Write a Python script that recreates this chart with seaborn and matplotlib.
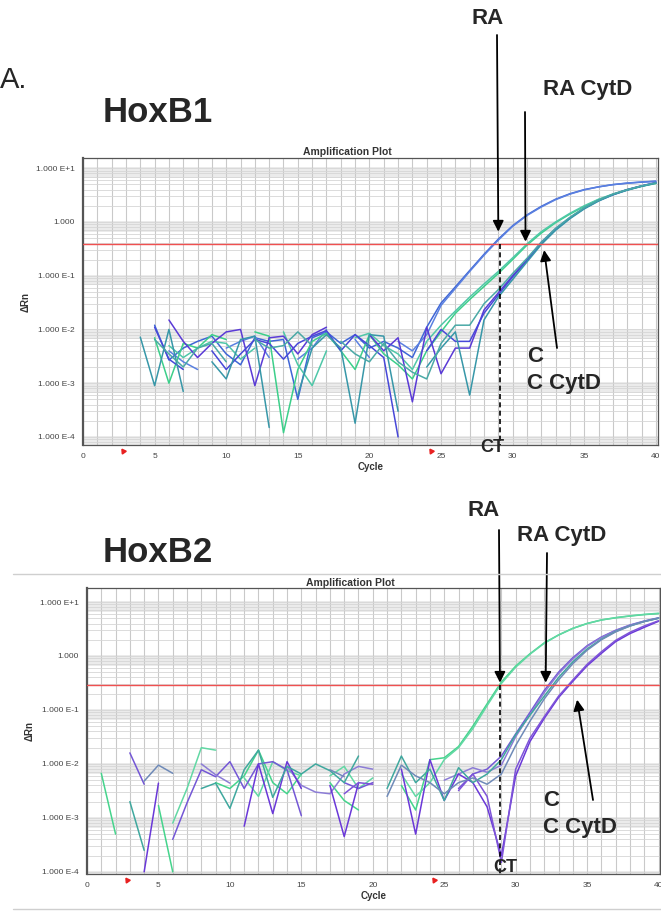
import numpy as np
import pandas as pd
import seaborn as sns
import matplotlib.pyplot as plt
from matplotlib.ticker import FixedLocator, MultipleLocator, LogLocator, NullFormatter
from matplotlib.lines import Line2D

nan = np.nan

# HoxB1 amplification curves, delta Rn per cycle (cycles 4-40, nan = not drawn)
hoxb1_cycles = np.arange(4, 41)
hoxb1_ra_1 = [nan, 0.012, 0.0027, 0.0045, 0.006, 0.0075, 0.0035, 0.0022, 0.007, 0.006, 0.0065, 0.0005,
              0.007, 0.009, 0.0055, 0.008, 0.0045, 0.006, 0.0045, 0.003, 0.011, 0.031, 0.062, 0.125,
              0.25, 0.48, 0.85, 1.35, 1.95, 2.65, 3.35, 4.0, 4.5, 4.95, 5.25, 5.5, 5.7]
hoxb1_ra_2 = [nan, nan, 0.004, 0.0025, 0.0018, nan, 0.0045, 0.006, 0.0075, 0.003, nan, 0.0028,
              0.0045, 0.01, nan, 0.0065, 0.003, nan, 0.006, 0.004, 0.008, 0.028, 0.058, 0.12,
              0.24, 0.46, 0.83, 1.32, 1.9, 2.6, 3.3, 3.95, 4.5, 4.95, 5.3, 5.55, 5.75]
hoxb1_racytd_1 = [nan, 0.007, 0.001, 0.0055, 0.0045, 0.008, 0.0065, nan, 0.009, 0.0075, 0.00012, 0.0018,
                  0.006, 0.0085, 0.004, 0.0018, 0.008, 0.0035, 0.0022, 0.0012, 0.004, 0.009, 0.02, 0.036,
                  0.063, 0.11, 0.2, 0.37, 0.62, 0.97, 1.4, 1.95, 2.6, 3.25, 3.95, 4.6, 5.2]
hoxb1_racytd_2 = [nan, nan, 0.005, 0.003, 0.0045, 0.006, 0.0055, 0.0028, 0.0045, nan, 0.009, 0.0022,
                  0.0009, 0.004, nan, 0.007, 0.0085, 0.005, 0.0035, 0.0018, 0.006, 0.012, 0.022, 0.04,
                  0.07, 0.12, 0.215, 0.39, 0.66, 1.0, 1.45, 2.0, 2.65, 3.3, 4.0, 4.65, 5.25]
hoxb1_c_1 = [nan, nan, 0.015, 0.006, 0.003, 0.0055, 0.009, 0.01, 0.0009, 0.007, 0.0075, 0.0035,
             0.008, 0.011, nan, nan, 0.008, 0.004, 0.007, 0.00045, 0.011, 0.0015, 0.0045, 0.0045,
             0.023, 0.048, 0.1, 0.2, 0.42, 0.75, 1.2, 1.8, 2.5, 3.25, 4.0, 4.7, 5.4]
hoxb1_c_2 = [nan, 0.011, 0.0028, 0.0018, nan, 0.004, 0.0018, 0.0035, 0.0065, 0.0055, 0.0028, 0.0055,
             0.0075, 0.0095, 0.004, 0.008, 0.005, 0.003, 0.0001, nan, 0.004, 0.01, 0.006, 0.006,
             0.02, 0.044, 0.095, 0.19, 0.4, 0.72, 1.18, 1.8, 2.5, 3.2, 3.95, 4.65, 5.35]
hoxb1_ccytd_1 = [0.0072, 0.0009, 0.01, 0.0007, nan, 0.0025, 0.0012, 0.0065, 0.0075, 0.00015, nan, 0.0006,
                 0.0045, 0.008, 0.0045, 0.00018, 0.008, 0.0075, 0.0003, nan, 0.002, 0.0045, 0.009, 0.0006,
                 0.015, 0.04, 0.085, 0.18, 0.38, 0.7, 1.15, 1.75, 2.45, 3.2, 3.9, 4.6, 5.3]
hoxb1_ccytd_2 = [nan, 0.0065, 0.0035, 0.002, 0.0045, 0.0055, 0.0025, nan, 0.0065, 0.0045, 0.005, 0.009,
                 0.005, nan, 0.006, 0.0035, 0.0025, 0.0055, 0.0025, 0.0016, 0.0012, 0.0055, 0.012, 0.012,
                 0.03, 0.055, 0.11, 0.21, 0.42, 0.76, 1.22, 1.85, 2.55, 3.3, 4.0, 4.7, 5.35]
hoxb1_threshold = 0.39
hoxb1_ct = 29.1

# HoxB2 amplification curves (cycles 1-40)
hoxb2_cycles = np.arange(1, 41)
hoxb2_ra_1 = [0.0067, 0.0005, nan, nan, 0.0017, 0.0001, nan, nan, 0.0045, 0.0035, 0.006, 0.018, 0.0045,
              0.0028, 0.0065, nan, 0.0045, 0.0021, 0.0014, nan, nan, 0.004, 0.0014, 0.012, 0.013, 0.021,
              0.05, 0.13, 0.33, 0.65, 1.1, 1.75, 2.45, 3.25, 4.0, 4.65, 5.1, 5.5, 5.85, 6.1]
hoxb2_ra_2 = [nan, nan, nan, nan, nan, 0.0008, 0.0035, 0.02, 0.018, nan, 0.0055, 0.0025, 0.011,
              0.0075, 0.006, nan, 0.006, 0.009, 0.0035, 0.0055, nan, 0.0065, 0.0025, 0.0045, 0.012, 0.02,
              0.045, 0.12, 0.31, 0.62, 1.08, 1.72, 2.45, 3.25, 4.0, 4.65, 5.15, 5.55, 5.9, 6.2]
hoxb2_racytd_1 = [nan, nan, 0.016, 0.0042, nan, 0.0004, 0.0019, 0.0078, 0.0058, 0.011, 0.0035, 0.01, 0.011,
                  0.0078, 0.0011, nan, nan, 0.0045, 0.0035, 0.0045, nan, nan, nan, nan, nan, 0.0035,
                  0.0065, 0.008, 0.014, 0.036, 0.09, 0.23, 0.5, 0.93, 1.55, 2.25, 3.0, 3.75, 4.45, 5.1]
hoxb2_racytd_2 = [nan, nan, nan, nan, nan, nan, nan, 0.01, 0.0063, 0.0044, nan, nan, nan,
                  0.009, 0.004, 0.003, 0.0028, 0.0065, 0.009, 0.008, nan, nan, nan, nan, 0.005, 0.0065,
                  0.0085, 0.007, 0.0095, 0.032, 0.082, 0.21, 0.47, 0.88, 1.5, 2.2, 2.95, 3.7, 4.4, 5.0]
hoxb2_c_1 = [nan, nan, nan, 0.0001, 0.0044, nan, nan, nan, nan, nan, 0.0007, 0.01, 0.0012,
             0.011, 0.0035, nan, 0.004, 0.00045, 0.0044, nan, nan, 0.008, 0.0005, 0.012, 0.0021, 0.0065,
             0.0045, 0.0016, 0.0002, 0.006, 0.026, 0.07, 0.17, 0.34, 0.66, 1.12, 1.85, 2.6, 3.4, 4.4]
hoxb2_c_2 = [nan, nan, nan, nan, nan, nan, nan, nan, nan, nan, nan, nan, nan,
             nan, nan, nan, nan, 0.0028, 0.0045, 0.0042, nan, nan, nan, nan, nan, 0.0032,
             0.0065, 0.0025, 0.00015, 0.008, 0.03, 0.075, 0.18, 0.36, 0.7, 1.2, 1.95, 2.75, 3.6, 4.5]
hoxb2_ccytd_1 = [nan, nan, 0.002, 0.00025, nan, nan, nan, 0.0035, 0.0044, 0.0015, 0.0078, 0.018, 0.0024,
                 0.009, 0.0065, 0.01, 0.0075, 0.0045, 0.014, nan, 0.0035, 0.014, 0.0045, 0.008, 0.0021, 0.0085,
                 0.0045, 0.0065, 0.012, 0.035, 0.08, 0.18, 0.4, 0.78, 1.35, 2.05, 2.85, 3.6, 4.35, 5.0]
hoxb2_ccytd_2 = [nan, nan, nan, 0.0048, 0.0095, 0.0067, nan, nan, nan, nan, nan, nan, nan,
                 nan, nan, nan, 0.0078, 0.0058, nan, nan, 0.0025, 0.0095, 0.006, 0.0045, 0.0028, 0.0045,
                 0.0055, 0.0042, 0.0065, 0.022, 0.062, 0.16, 0.36, 0.72, 1.28, 2.0, 2.8, 3.6, 4.35, 5.05]
hoxb2_threshold = 0.29
hoxb2_ct = 28.9

y_ticks = [10, 1, 0.1, 0.01, 0.001, 0.0001]
y_tick_labels = ['1.000 E+1', '1.000', '1.000 E-1', '1.000 E-2', '1.000 E-3', '1.000 E-4']
x_ticks = [0, 5, 10, 15, 20, 25, 30, 35, 40]
baseline_marks = [2.8, 24.3]

hoxb1_series = {'RA 1': hoxb1_ra_1, 'RA 2': hoxb1_ra_2, 'RA CytD 1': hoxb1_racytd_1,
                'RA CytD 2': hoxb1_racytd_2, 'C 1': hoxb1_c_1, 'C 2': hoxb1_c_2,
                'C CytD 1': hoxb1_ccytd_1, 'C CytD 2': hoxb1_ccytd_2}
hoxb1_colors = {'RA 1': '#3f66d6', 'RA 2': '#5a80e0', 'RA CytD 1': '#3ccf8a',
                'RA CytD 2': '#4fc7a8', 'C 1': '#5a3ad6', 'C 2': '#4848d8',
                'C CytD 1': '#3797a8', 'C CytD 2': '#4aa9a6'}
hoxb2_series = {'RA 1': hoxb2_ra_1, 'RA 2': hoxb2_ra_2, 'RA CytD 1': hoxb2_racytd_1,
                'RA CytD 2': hoxb2_racytd_2, 'C 1': hoxb2_c_1, 'C 2': hoxb2_c_2,
                'C CytD 1': hoxb2_ccytd_1, 'C CytD 2': hoxb2_ccytd_2}
hoxb2_colors = {'RA 1': '#45d48c', 'RA 2': '#62d8a4', 'RA CytD 1': '#7457d6',
                'RA CytD 2': '#8c7cd6', 'C 1': '#6a38d8', 'C 2': '#7e54d8',
                'C CytD 1': '#3fa89e', 'C CytD 2': '#6f8ab8'}

sns.set_style('white')
plt.rcParams['font.family'] = ['Liberation Sans', 'DejaVu Sans']

W, H = 661, 911
fig = plt.figure(figsize=(W / 100, H / 100), dpi=100)


def fpx(x, y):
    # figure pixel position measured from the top-left corner
    return (x, H - y)


def ftext(x, y, s, **kw):
    fig.text(x / W, 1 - y / H, s, **kw)


def long_table(cycles, series):
    frames = []
    for name, values in series.items():
        v = pd.Series(values, dtype=float)
        seg = v.isna().cumsum().astype(str)
        frames.append(pd.DataFrame({'cycle': cycles, 'rn': v.values,
                                    'series': name, 'seg': name + '_' + seg.values}))
    return pd.concat(frames).dropna(subset=['rn'])


def draw_panel(ax, cycles, series, colors, threshold, ct, ylim, xmax):
    ax.set_yscale('log')
    ax.set_xlim(0, xmax)
    ax.set_ylim(*ylim)
    for k in range(-4, 2):
        ax.axhspan(0.66 * 10.0 ** k, 1.04 * 10.0 ** k, color='#ebebeb', lw=0, zorder=0)
    ax.set_axisbelow(True)
    ax.xaxis.set_major_locator(FixedLocator(x_ticks))
    ax.xaxis.set_minor_locator(MultipleLocator(1))
    ax.yaxis.set_major_locator(FixedLocator(y_ticks))
    ax.yaxis.set_minor_locator(LogLocator(base=10, subs=np.arange(2, 10)))
    ax.yaxis.set_minor_formatter(NullFormatter())
    ax.set_yticklabels(y_tick_labels)
    ax.grid(which='both', axis='x', color='#c9c9c9', lw=0.8)
    ax.grid(which='both', axis='y', color='#d6d6d6', lw=0.6)
    ax.tick_params(axis='both', which='major', labelsize=6, labelcolor='#444444',
                   length=3, width=0.6, color='#666666', pad=3)
    ax.tick_params(axis='both', which='minor', length=0)
    for side, sp in ax.spines.items():
        sp.set_color('#555555')
        sp.set_linewidth(0.9)
    ax.spines['left'].set_linewidth(1.6)

    df = long_table(cycles, series)
    sns.lineplot(data=df, x='cycle', y='rn', hue='series', units='seg', estimator=None,
                 palette=colors, lw=1.1, legend=False, ax=ax)
    ax.axhline(threshold, color='#f05050', lw=1.0, zorder=3)
    ax.plot([ct, ct], [threshold, ylim[0]], color='black', lw=1.2, ls=(0, (3, 2)), zorder=4)
    ax.plot(baseline_marks, [-0.02, -0.02], ls='none', marker=(3, 0, 35), ms=4,
            color='#e82020', transform=ax.get_xaxis_transform(), clip_on=False)
    ax.set_xlabel('Cycle', fontsize=7, fontweight='bold', color='#333333', labelpad=1)
    ax.set_ylabel('ΔRn', fontsize=7, fontweight='bold', color='#333333', labelpad=4)


arrow = dict(arrowstyle='-|>', color='black', lw=1.3, mutation_scale=16, shrinkA=0, shrinkB=0)

# ---- HoxB1 ----
ax1 = fig.add_axes([83 / W, 1 - 445 / H, 575 / W, 287 / H])
draw_panel(ax1, hoxb1_cycles, hoxb1_series, hoxb1_colors, hoxb1_threshold, hoxb1_ct,
           (10 ** -4.15, 10 ** 1.19), 40.15)
ftext(347, 152, 'Amplification Plot', fontsize=7.5, fontweight='bold', ha='center', va='center', color='#333333')
ftext(0, 80, 'A.', fontsize=21, ha='left', va='center')
ftext(103, 113, 'HoxB1', fontsize=25, fontweight='bold', ha='left', va='center')
ftext(488, 19, 'RA', fontsize=16, fontweight='bold', ha='center', va='center')
ftext(588, 90, 'RA CytD', fontsize=16, fontweight='bold', ha='center', va='center')
ftext(527, 356, 'C', fontsize=16, fontweight='bold', ha='left', va='center')
ftext(527, 383, 'C CytD', fontsize=16, fontweight='bold', ha='left', va='center')
ftext(492, 447, 'CT', fontsize=13, fontweight='bold', ha='center', va='center')
ax1.annotate('', xy=(29.0, 0.66), xytext=fpx(497, 35), textcoords='figure pixels', arrowprops=arrow)
ax1.annotate('', xy=(30.9, 0.43), xytext=fpx(525, 112), textcoords='figure pixels', arrowprops=arrow)
ax1.annotate('', xy=(32.2, 0.30), xytext=fpx(557, 348), textcoords='figure pixels', arrowprops=arrow)

# ---- HoxB2 ----
ax2 = fig.add_axes([87 / W, 1 - 874 / H, 573 / W, 286 / H])
draw_panel(ax2, hoxb2_cycles, hoxb2_series, hoxb2_colors, hoxb2_threshold, hoxb2_ct,
           (10 ** -4.04, 10 ** 1.26), 40.1)
ftext(350, 583, 'Amplification Plot', fontsize=7.5, fontweight='bold', ha='center', va='center', color='#333333')
ftext(103, 552, 'HoxB2', fontsize=25, fontweight='bold', ha='left', va='center')
ftext(484, 511, 'RA', fontsize=16, fontweight='bold', ha='center', va='center')
ftext(562, 536, 'RA CytD', fontsize=16, fontweight='bold', ha='center', va='center')
ftext(543, 800, 'C', fontsize=16, fontweight='bold', ha='left', va='center')
ftext(543, 828, 'C CytD', fontsize=16, fontweight='bold', ha='left', va='center')
ftext(505, 868, 'CT', fontsize=13, fontweight='bold', ha='center', va='center')
ax2.annotate('', xy=(28.9, 0.32), xytext=fpx(499, 530), textcoords='figure pixels', arrowprops=arrow)
ax2.annotate('', xy=(32.1, 0.32), xytext=fpx(547, 553), textcoords='figure pixels', arrowprops=arrow)
ax2.annotate('', xy=(34.3, 0.155), xytext=fpx(593, 800), textcoords='figure pixels', arrowprops=arrow)

# thin frame lines around the second screenshot
fig.add_artist(Line2D([13 / W, 1], [1 - 574 / H] * 2, color='#cfcfcf', lw=1.0))
fig.add_artist(Line2D([13 / W, 1], [1 - 909 / H] * 2, color='#cfcfcf', lw=1.0))

fig.savefig('out.png', dpi=100)
